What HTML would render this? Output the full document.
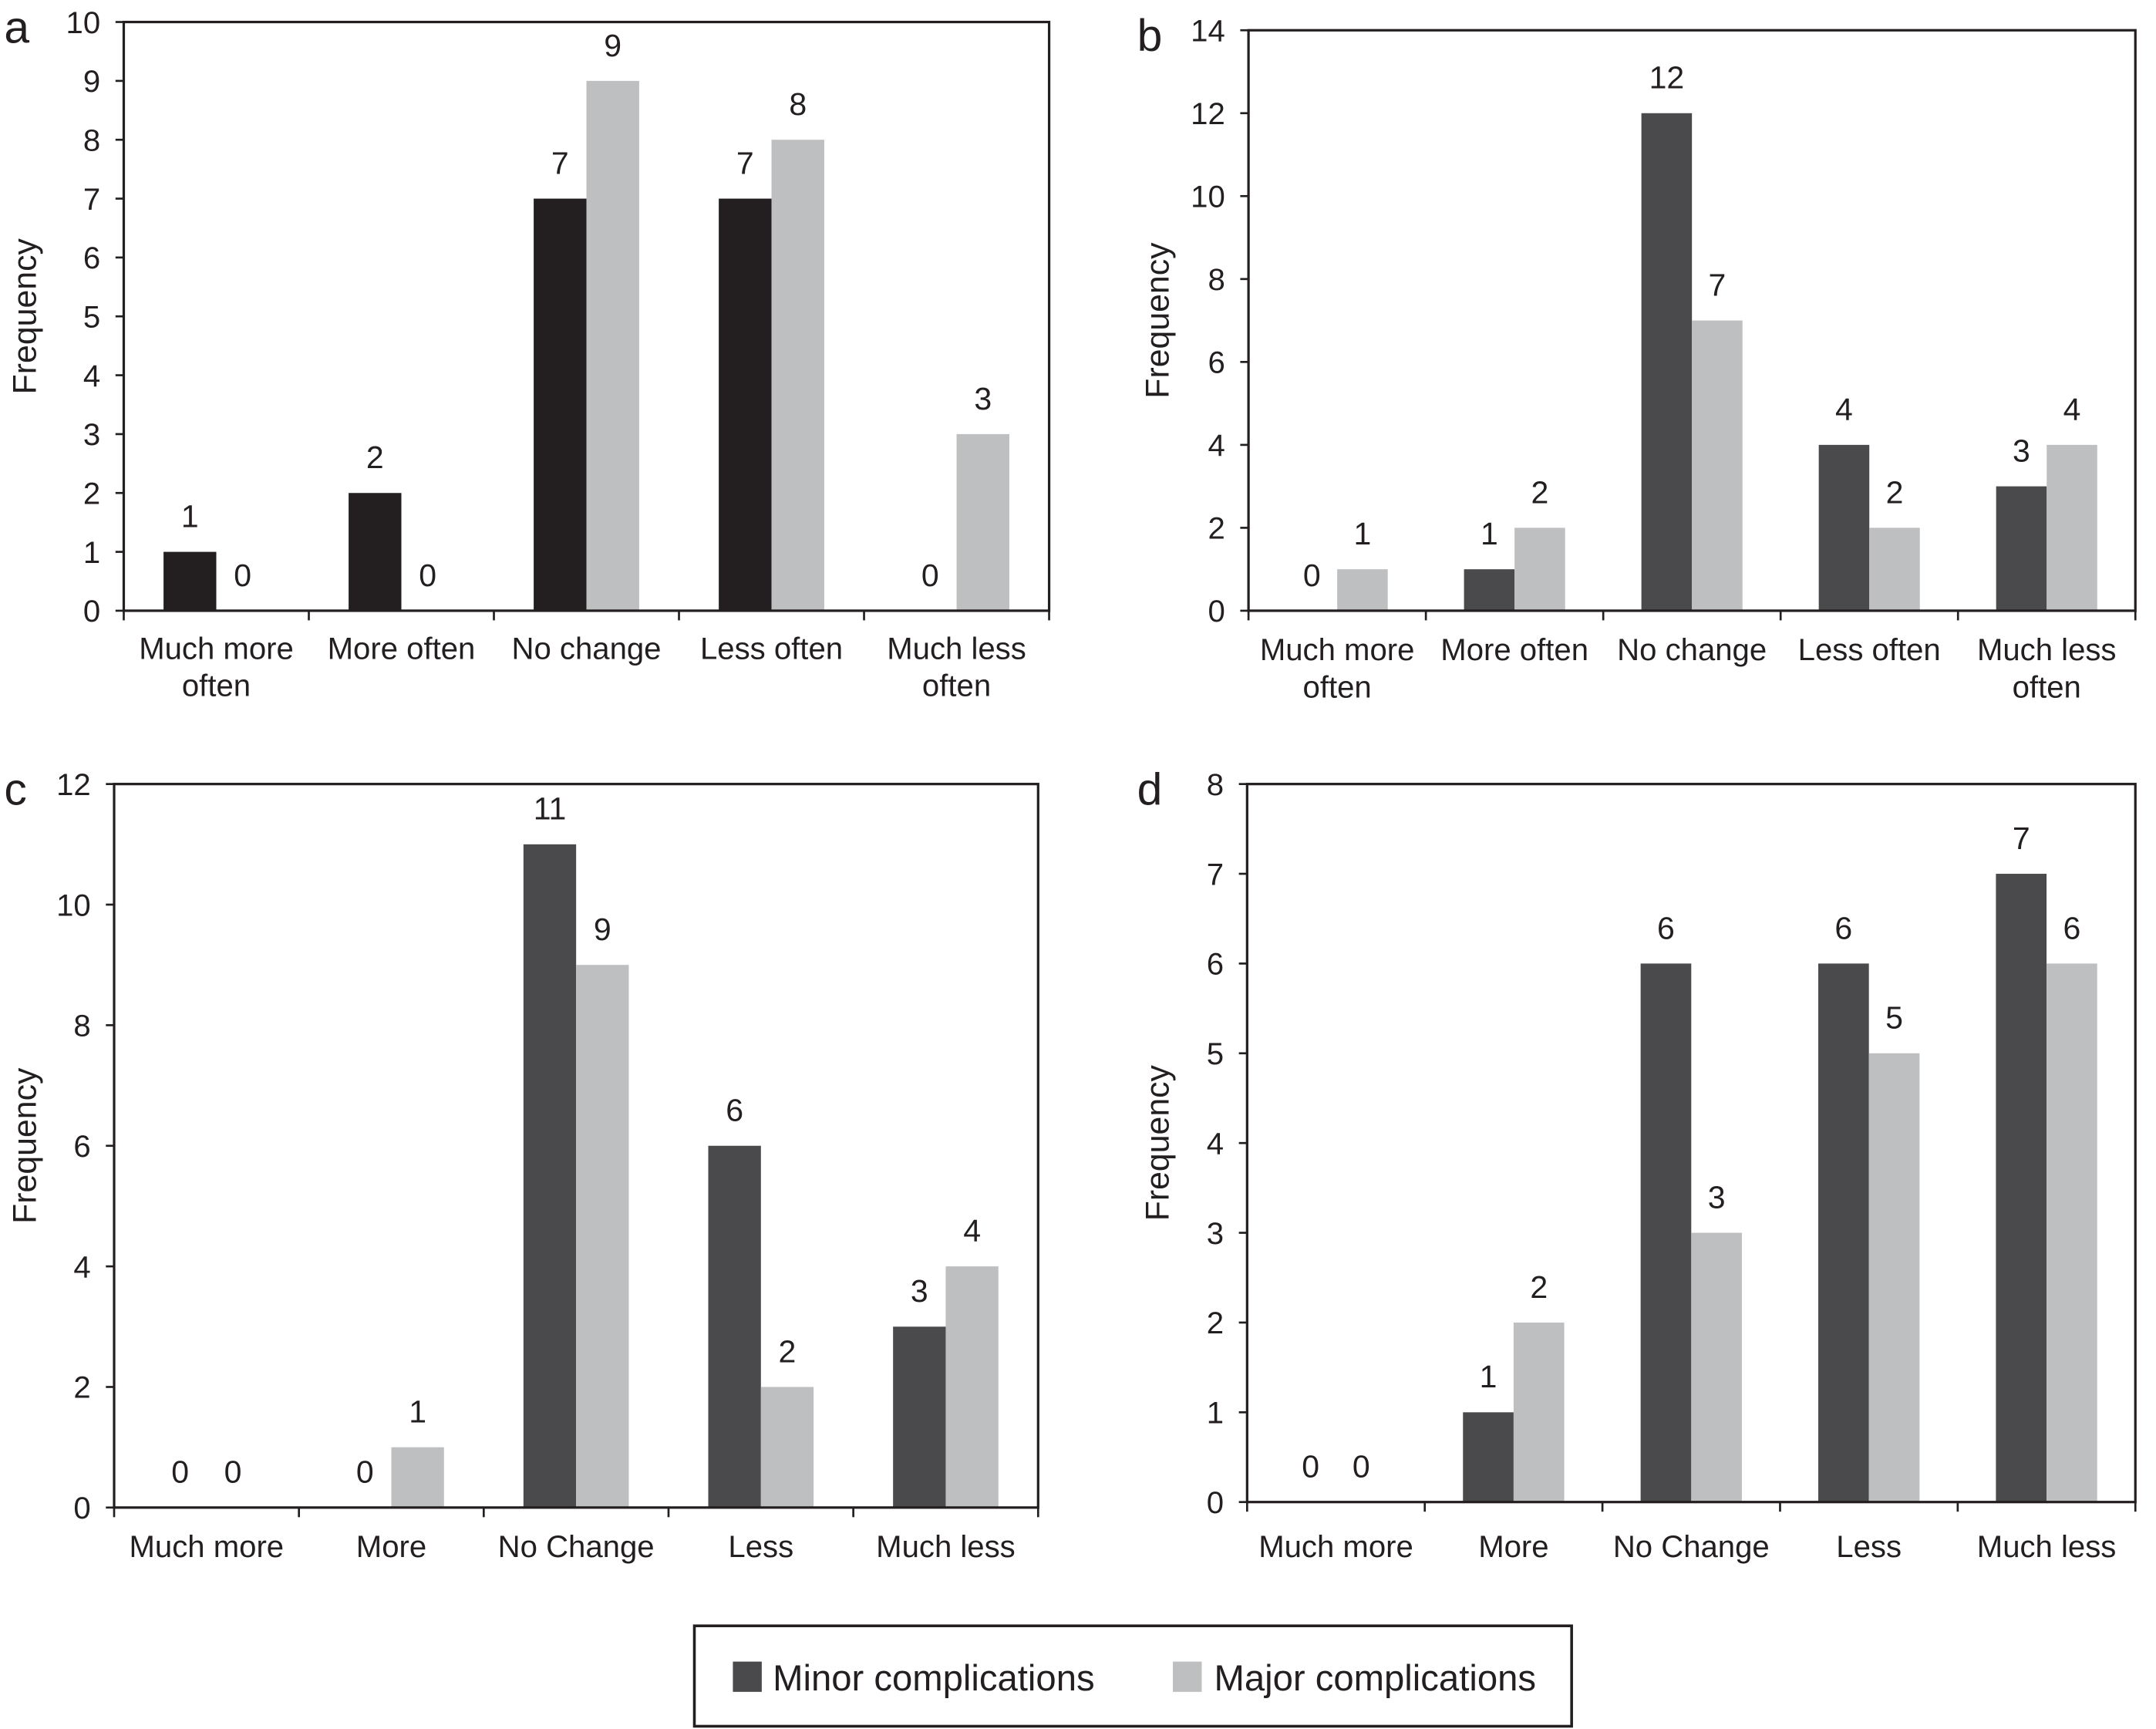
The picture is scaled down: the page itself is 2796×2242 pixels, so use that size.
<!DOCTYPE html>
<html><head><meta charset="utf-8">
<style>
html,body{margin:0;padding:0;background:#fff;}
svg{display:block;}
text{font-family:"Liberation Sans",Arial,sans-serif;fill:#231f20;}
</style></head>
<body>
<svg id="chart" width="2796" height="2242" viewBox="0 0 1568 1257" preserveAspectRatio="none" xmlns="http://www.w3.org/2000/svg">
  <g>
    <rect x="505" y="1182" width="638" height="73" fill="#fff" stroke="#231f20" stroke-width="2"/>
    <rect x="533" y="1208" width="21" height="22" fill="#4a4a4c"/>
    <text x="562" y="1229" font-size="26.5">Minor complications</text>
    <rect x="853" y="1208" width="21" height="22" fill="#bebfc1"/>
    <text x="883" y="1229" font-size="26.5">Major complications</text>
  </g>
</svg>
<script>
const categoriesA = [["Much more","often"],["More often"],["No change"],["Less often"],["Much less","often"]];
const minorA = [1,2,7,7,0];
const majorA = [0,0,9,8,3];
const ticksA = [0,1,2,3,4,5,6,7,8,9,10];

const categoriesB = [["Much more","often"],["More often"],["No change"],["Less often"],["Much less","often"]];
const minorB = [0,1,12,4,3];
const majorB = [1,2,7,2,4];
const ticksB = [0,2,4,6,8,10,12,14];

const categoriesC = [["Much more"],["More"],["No Change"],["Less"],["Much less"]];
const minorC = [0,0,11,6,3];
const majorC = [0,1,9,2,4];
const ticksC = [0,2,4,6,8,10,12];

const categoriesD = [["Much more"],["More"],["No Change"],["Less"],["Much less"]];
const minorD = [0,1,6,6,7];
const majorD = [0,2,3,5,6];
const ticksD = [0,1,2,3,4,5,6,7,8];

const NS = "http://www.w3.org/2000/svg";
const svg = document.getElementById('chart');
function mk(tag, attrs, parent){
  const e = document.createElementNS(NS, tag);
  for (const k in attrs) e.setAttribute(k, attrs[k]);
  parent.appendChild(e);
  return e;
}

function panel(id, letter, box, cats, minor, major, ticks, darkColor, lblY, leftX){
  const g = mk('g', {}, svg);
  
  
  const ymax = ticks[ticks.length-1];
  const yS = v => box.b - (v / ymax) * (box.b - box.t);
  const gw = (box.r - box.l) / cats.length;
  const xS = i => box.l + gw * i;
  const bw = gw * 0.285;

  const L = mk('text', {x: leftX, y: box.t + 15, 'font-size': 33}, g);
  L.textContent = letter;
  
  

  const yt = mk('text', {x: 0, y: 0, 'font-size': 24, 'text-anchor': 'middle', transform: `translate(${leftX + 23},${(box.t + box.b)/2}) rotate(-90)`}, g);
  yt.textContent = 'Frequency';
  
  

  for (let i = 0; i < cats.length; i++){
    const cx = xS(i) + gw/2;
    [[minor[i], cx - bw, darkColor, 'minor'], [major[i], cx, '#bebfc1', 'major']].forEach(([v, x, c, s]) => {
      if (v > 0){
        const r = mk('rect', {x: x, y: yS(v), width: bw, height: yS(0) - yS(v), fill: c}, g);
        
        
      }
      const t = mk('text', {x: x + bw/2, y: yS(v) - 18, 'font-size': 23, 'text-anchor': 'middle'}, g);
      t.textContent = v;
      
      
    });
    cats[i].forEach((ln, k) => {
      const t = mk('text', {x: cx, y: lblY + k * 27, 'font-size': 22.5, 'text-anchor': 'middle'}, g);
      t.textContent = ln;
      
      
    });
  }
  const f = mk('rect', {x: box.l, y: box.t, width: box.r - box.l, height: box.b - box.t, fill: 'none', stroke: '#231f20', 'stroke-width': 1.8}, g);
  
  
  ticks.forEach(tv => {
    const y = yS(tv);
    const tl = mk('line', {x1: box.l - 6, x2: box.l, y1: y, y2: y, stroke: '#231f20', 'stroke-width': 1.5}, g);
    
    
    const t = mk('text', {x: box.l - 17, y: y + 8, 'font-size': 22.5, 'text-anchor': 'end'}, g);
    t.textContent = tv;
    
    
  });
  for (let i = 0; i <= cats.length; i++){
    const x = xS(i);
    const tl = mk('line', {x1: x, x2: x, y1: box.b, y2: box.b + 7, stroke: '#231f20', 'stroke-width': 1.5}, g);
    
    
  }
}

panel('a', 'a', {l: 90, t: 16, r: 763, b: 444}, categoriesA, minorA, majorA, ticksA, '#231f20', 479, 3);
panel('b', 'b', {l: 908, t: 22, r: 1553, b: 444}, categoriesB, minorB, majorB, ticksB, '#4a4a4c', 480, 827);
panel('c', 'c', {l: 83, t: 570, r: 755, b: 1096}, categoriesC, minorC, majorC, ticksC, '#4a4a4c', 1132, 3);
panel('d', 'd', {l: 907, t: 570, r: 1553, b: 1092}, categoriesD, minorD, majorD, ticksD, '#4a4a4c', 1132, 827);
</script>
</body></html>
